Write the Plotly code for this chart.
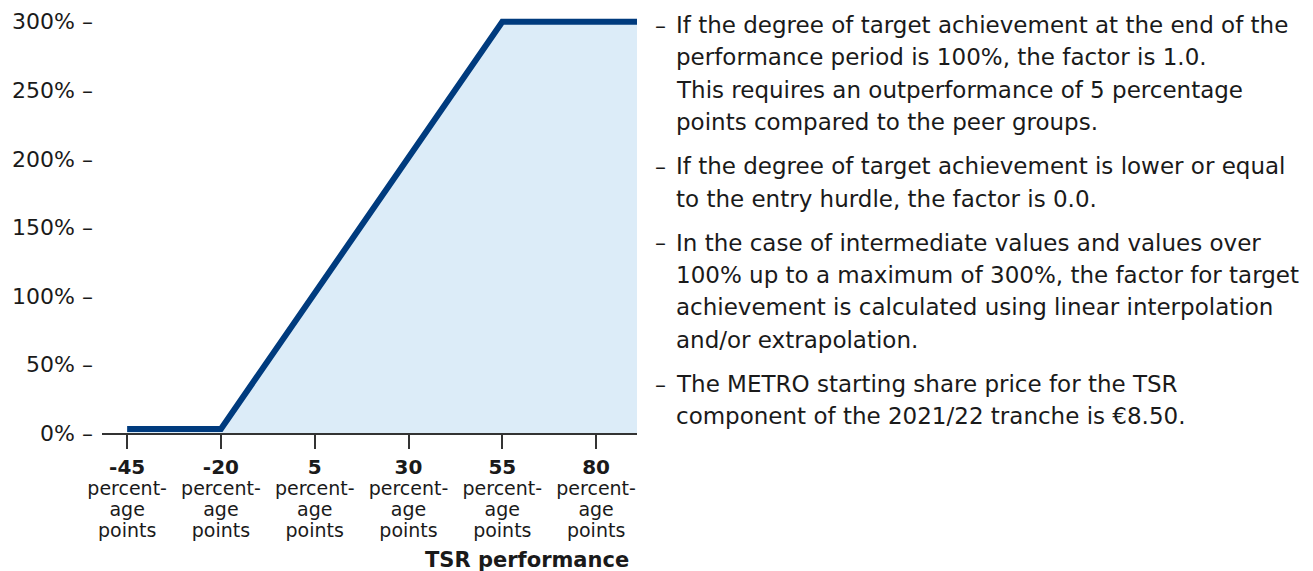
import plotly.graph_objects as go

# TSR performance (percentage points) vs. target achievement factor (%)
tsr_points = [-45, -20, 55, 91]
factor_pct = [3, 3, 300, 300]

x_tick_vals = [-45, -20, 5, 30, 55, 80]
y_tick_vals = [0, 50, 100, 150, 200, 250, 300]

bullets = [
    ["If the degree of target achievement at the end of the",
     "performance period is 100%, the factor is 1.0.",
     "This requires an outperformance of 5 percentage",
     "points compared to the peer groups."],
    ["If the degree of target achievement is lower or equal",
     "to the entry hurdle, the factor is 0.0."],
    ["In the case of intermediate values and values over",
     "100% up to a maximum of 300%, the factor for target",
     "achievement is calculated using linear interpolation",
     "and/or extrapolation."],
    ["The METRO starting share price for the TSR",
     "component of the 2021/22 tranche is €8.50."],
]

FONT = "DejaVu Sans"
INK = "#1a1a1a"
# page has an 8px body margin, so the figure is drawn 8px smaller and
# every pixel position below is given in page coordinates
OFF = 8
W, H = 1313 - OFF, 571 - OFF
M_L, M_R, M_T, M_B = 102 - OFF, W - (637 - OFF), 0, H - (433 - OFF)

fig = go.Figure()
fig.add_trace(go.Scatter(
    x=tsr_points, y=factor_pct, mode="lines",
    line=dict(color="#003b7e", width=6),
    fill="tozeroy", fillcolor="#dcecf8",
    hoverinfo="skip", showlegend=False,
))


def py(px):
    # page pixel row -> paper fraction
    return (H - M_B - (px - OFF)) / (H - M_T - M_B)


def px_x(px):
    return (px - OFF - M_L) / (W - M_L - M_R)


annotations = []
row = 25
for lines in bullets:
    annotations.append(dict(
        text="–", x=px_x(653), y=py(row), xref="paper", yref="paper",
        xanchor="left", yanchor="middle", showarrow=False,
        font=dict(family=FONT, size=22, color=INK)))
    for line in lines:
        annotations.append(dict(
            text=line, x=px_x(674), y=py(row), xref="paper", yref="paper",
            xanchor="left", yanchor="middle", showarrow=False,
            font=dict(family=FONT, size=23, color=INK)))
        row += 32.3
    row += 12

annotations.append(dict(
    text="<b>TSR performance</b>", x=px_x(631), y=py(560),
    xref="paper", yref="paper", xanchor="right", yanchor="middle",
    showarrow=False, font=dict(family=FONT, size=21, color=INK)))

sub = "<span style='font-size:19px'>"
fig.update_layout(
    width=W, height=H,
    margin=dict(l=M_L, r=M_R, t=M_T, b=M_B),
    paper_bgcolor="white", plot_bgcolor="white",
    font=dict(family=FONT, color=INK),
    annotations=annotations,
    xaxis=dict(
        range=[-51.7, 90.9],
        tickvals=x_tick_vals,
        ticktext=[f"<span style='font-size:20px'><b>{v}</b></span><br>"
                  f"{sub}percent-</span><br>{sub}age</span><br>{sub}points</span>"
                  for v in x_tick_vals],
        tickfont=dict(family=FONT, size=16, color=INK),
        ticks="outside", ticklen=14, tickwidth=2, tickcolor="#333333",
        ticklabelstandoff=6,
        showline=True, linecolor="#333333", linewidth=2,
        showgrid=False, zeroline=False, fixedrange=True,
    ),
    yaxis=dict(
        range=[0, 310],
        tickvals=y_tick_vals,
        ticktext=[f"{v}% –" for v in y_tick_vals],
        tickfont=dict(family=FONT, size=22, color=INK),
        ticks="", ticklabelstandoff=8,
        showline=False, showgrid=False, zeroline=False, fixedrange=True,
    ),
)

fig.write_html("out.html")
